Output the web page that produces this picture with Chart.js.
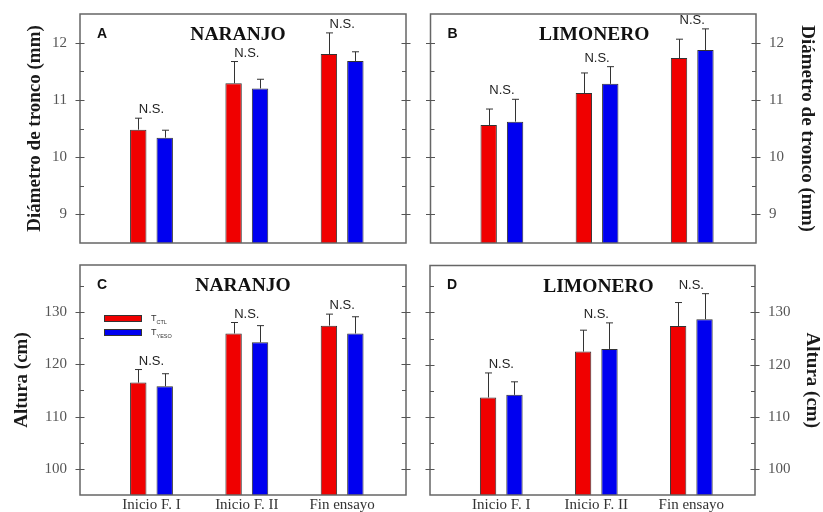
<!DOCTYPE html>
<html>
<head>
<meta charset="utf-8">
<script src="https://cdn.jsdelivr.net/npm/chart.js@4.4.1/dist/chart.umd.min.js"></script>
<style>
  body { margin: 0; background: #fff; }
  #wrap { position: relative; width: 823px; height: 512px; overflow: hidden; }
  canvas { position: absolute; }
</style>
</head>
<body>
<div id="wrap">
  <canvas id="chartA" width="412" height="256" style="left:0;top:0"></canvas>
  <canvas id="chartB" width="411" height="256" style="left:412px;top:0"></canvas>
  <canvas id="chartC" width="412" height="256" style="left:0;top:256px"></canvas>
  <canvas id="chartD" width="411" height="256" style="left:412px;top:256px"></canvas>
</div>
<script>
// Data
const categories = ['Inicio F. I', 'Inicio F. II', 'Fin ensayo'];
const seriesNames = ['CTL', 'YESO'];
const seriesColors = ['#f00000', '#0000f0'];

// Diámetro de tronco (mm)
const diamNaranjoCtl = [10.48, 11.29, 11.80];
const diamNaranjoCtlErr = [0.20, 0.38, 0.37];
const diamNaranjoYeso = [10.34, 11.20, 11.68];
const diamNaranjoYesoErr = [0.13, 0.16, 0.16];
const diamLimoneroCtl = [10.56, 11.12, 11.73];
const diamLimoneroCtlErr = [0.28, 0.35, 0.33];
const diamLimoneroYeso = [10.62, 11.28, 11.87];
const diamLimoneroYesoErr = [0.39, 0.30, 0.37];

// Altura (cm)
const altNaranjoCtl = [116.5, 125.9, 127.4];
const altNaranjoCtlErr = [2.5, 2.1, 2.2];
const altNaranjoYeso = [115.8, 124.2, 125.9];
const altNaranjoYesoErr = [2.4, 3.2, 3.2];
const altLimoneroCtl = [113.7, 122.5, 127.4];
const altLimoneroCtlErr = [4.7, 4.1, 4.5];
const altLimoneroYeso = [114.2, 123.0, 128.7];
const altLimoneroYesoErr = [2.5, 5.0, 4.9];

const diamTicks = [9, 10, 11, 12];
const altTicks = [100, 110, 120, 130];
const groupNote = 'N.S.';

const SERIF = '"Liberation Serif", "Times New Roman", serif';
const SANS = '"Liberation Sans", Arial, sans-serif';

// draws error bars, N.S. notes, frame, tick marks, panel letter, title, legend
const panelDecor = {
  id: 'panelDecor',
  afterDatasetsDraw(chart, args, opts) {
    const { ctx, chartArea: a, scales } = chart;
    const x = scales.x, y = scales.y;
    ctx.save();

    ctx.strokeStyle = '#333';
    ctx.lineWidth = 1;
    const tops = [];
    chart.data.datasets.forEach((ds, d) => {
      chart.getDatasetMeta(d).data.forEach((bar, i) => {
        const top = y.getPixelForValue(ds.data[i].y + ds.err[i]);
        tops[i] = Math.min(tops[i] === undefined ? Infinity : tops[i], top);
        const bx = Math.round(bar.x) + 0.5;
        ctx.beginPath();
        ctx.moveTo(bx, bar.y);
        ctx.lineTo(bx, top);
        ctx.moveTo(bx - 3.5, top);
        ctx.lineTo(bx + 3.5, top);
        ctx.stroke();
      });
    });

    ctx.fillStyle = '#222';
    ctx.font = '13px ' + SANS;
    ctx.textAlign = 'center';
    ctx.textBaseline = 'bottom';
    tops.forEach((t, i) => ctx.fillText(groupNote, x.getPixelForValue(i + 1), t - 2));

    // frame
    ctx.strokeStyle = '#666';
    ctx.lineWidth = 1.5;
    ctx.strokeRect(a.left, a.top, a.width, a.height);

    // tick marks on both sides
    ctx.strokeStyle = '#555';
    ctx.lineWidth = 1;
    ['y', 'y2'].forEach(id => {
      const s = scales[id];
      const edge = s.position === 'left' ? a.left : a.right;
      const dir = s.position === 'left' ? 1 : -1;
      s.ticks.forEach(t => {
        if (t.value <= s.min || t.value >= s.max) return;
        const py = Math.round(s.getPixelForValue(t.value)) + 0.5;
        const major = opts.major.includes(t.value);
        ctx.beginPath();
        ctx.moveTo(major ? edge - 4.5 * dir : edge, py);
        ctx.lineTo(edge + (major ? 4.5 : 4) * dir, py);
        ctx.stroke();
      });
    });

    // letter and title
    ctx.fillStyle = '#111';
    ctx.textBaseline = 'middle';
    ctx.textAlign = 'left';
    ctx.font = 'bold 14px ' + SANS;
    ctx.fillText(opts.letter, a.left + 17, a.top + 20);
    ctx.textAlign = 'center';
    ctx.font = 'bold 19.5px ' + SERIF;
    ctx.fillText(opts.title, (a.left + a.right) / 2 + opts.titleShift, a.top + 21);

    // legend
    if (opts.legend) {
      chart.data.datasets.forEach((ds, d) => {
        const lx = a.left + 24, ly = a.top + 50 + d * 14;
        ctx.fillStyle = ds.backgroundColor;
        ctx.fillRect(lx, ly, 38, 7);
        ctx.strokeStyle = '#333';
        ctx.strokeRect(lx + 0.5, ly + 0.5, 37, 6);
        ctx.fillStyle = '#333';
        ctx.textAlign = 'left';
        ctx.textBaseline = 'alphabetic';
        ctx.font = '9px ' + SANS;
        ctx.fillText('T', lx + 47, ly + 6);
        const w = ctx.measureText('T').width;
        ctx.font = '5.5px ' + SANS;
        ctx.fillText(ds.label, lx + 47 + w, ly + 9);
      });
    }
    ctx.restore();
  }
};

function stepTicks(step) {
  return s => {
    const t = [];
    for (let v = Math.ceil(s.min / step - 1e-9) * step; v <= s.max + 1e-9; v += step) {
      t.push({ value: +v.toFixed(3) });
    }
    s.ticks = t;
  };
}

function makePanel(id, p) {
  const yAxis = (pos) => {
    const labelled = pos === p.side;
    return {
      type: 'linear',
      position: pos,
      min: p.min,
      max: p.max,
      afterBuildTicks: stepTicks(p.step),
      afterFit: s => {
        s.width = pos === 'left' ? p.leftW : p.rightW;
        s.paddingTop = 0;
        s.paddingBottom = 0;
      },
      grid: { display: false },
      border: { display: false },
      ticks: {
        display: labelled,
        padding: 5,
        color: '#555',
        font: { family: SERIF, size: 15 },
        callback: v => (p.major.includes(v) ? String(v) : '')
      },
      title: {
        display: labelled,
        text: p.yTitle,
        color: '#1a1a1a',
        font: { family: SERIF, size: 19, weight: 'bold' },
        padding: { top: p.titlePad, bottom: 0 }
      }
    };
  };
  return new Chart(document.getElementById(id), {
    type: 'bar',
    data: {
      datasets: [
        { label: seriesNames[0], data: p.ctl.map((v, i) => ({ x: i + 1, y: v })), err: p.ctlErr,
          backgroundColor: seriesColors[0], borderColor: '#333', borderWidth: 1 },
        { label: seriesNames[1], data: p.yeso.map((v, i) => ({ x: i + 1, y: v })), err: p.yesoErr,
          backgroundColor: seriesColors[1], borderColor: '#333', borderWidth: 1 }
      ]
    },
    options: {
      responsive: false,
      animation: false,
      events: [],
      layout: { padding: { top: p.top, left: 0, right: 0, bottom: 0 } },
      datasets: { bar: { categoryPercentage: 0.555, barPercentage: 0.62 } },
      plugins: {
        legend: { display: false },
        tooltip: { enabled: false },
        panelDecor: { letter: p.letter, title: p.title, titleShift: p.titleShift, legend: p.legend, major: p.major }
      },
      scales: {
        x: {
          type: 'linear',
          offset: false,
          min: 0.25,
          max: 3.67,
          afterBuildTicks: s => { s.ticks = categories.map((c, i) => ({ value: i + 1 })); },
          afterFit: s => {
            s.height = p.xH;
            s.paddingLeft = 0;
            s.paddingRight = 0;
          },
          grid: { display: false },
          border: { display: false },
          ticks: {
            display: p.showX,
            padding: -7,
            maxRotation: 0,
            autoSkip: false,
            color: '#333',
            font: { family: SERIF, size: 15 },
            callback: v => categories[v - 1]
          }
        },
        y: yAxis('left'),
        y2: yAxis('right')
      }
    },
    plugins: [panelDecor]
  });
}

makePanel('chartA', {
  letter: 'A', title: 'NARANJO', titleShift: -5, side: 'left', yTitle: 'Diámetro de tronco (mm)', titlePad: 24,
  ctl: diamNaranjoCtl, ctlErr: diamNaranjoCtlErr, yeso: diamNaranjoYeso, yesoErr: diamNaranjoYesoErr,
  min: 8.5, max: 12.5, step: 0.5, major: diamTicks,
  top: 14, xH: 13, leftW: 80, rightW: 6, showX: false, legend: false
});
makePanel('chartB', {
  letter: 'B', title: 'LIMONERO', titleShift: 1, side: 'right', yTitle: 'Diámetro de tronco (mm)', titlePad: 5,
  ctl: diamLimoneroCtl, ctlErr: diamLimoneroCtlErr, yeso: diamLimoneroYeso, yesoErr: diamLimoneroYesoErr,
  min: 8.5, max: 12.5, step: 0.5, major: diamTicks,
  top: 14, xH: 13, leftW: 18.5, rightW: 67, showX: false, legend: false
});
makePanel('chartC', {
  letter: 'C', title: 'NARANJO', titleShift: 0, side: 'left', yTitle: 'Altura (cm)', titlePad: 11,
  ctl: altNaranjoCtl, ctlErr: altNaranjoCtlErr, yeso: altNaranjoYeso, yesoErr: altNaranjoYesoErr,
  min: 95, max: 139, step: 5, major: altTicks,
  top: 9, xH: 17, leftW: 80, rightW: 6, showX: true, legend: true
});
makePanel('chartD', {
  letter: 'D', title: 'LIMONERO', titleShift: 6, side: 'right', yTitle: 'Altura (cm)', titlePad: 0,
  ctl: altLimoneroCtl, ctlErr: altLimoneroCtlErr, yeso: altLimoneroYeso, yesoErr: altLimoneroYesoErr,
  min: 95, max: 139, step: 5, major: altTicks,
  top: 9.5, xH: 17, leftW: 18, rightW: 68, showX: true, legend: false
});
</script>
</body>
</html>
